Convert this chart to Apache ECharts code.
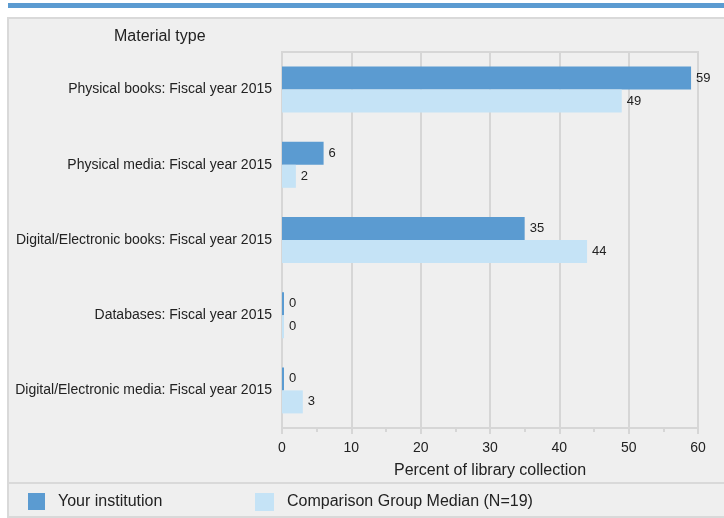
<!DOCTYPE html>
<html>
<head>
<meta charset="utf-8">
<script src="https://cdn.jsdelivr.net/npm/echarts@6/dist/echarts.min.js"></script>
<style>
html,body{margin:0;padding:0;background:#ffffff;}
#chart{width:724px;height:518px;}
</style>
</head>
<body>
<div id="chart"></div>
<script>
var categories = [
  'Physical books: Fiscal year 2015',
  'Physical media: Fiscal year 2015',
  'Digital/Electronic books: Fiscal year 2015',
  'Databases: Fiscal year 2015',
  'Digital/Electronic media: Fiscal year 2015'
];
var yourInstitution = [59, 6, 35, 0, 0];
var comparisonMedian = [49, 2, 44, 0, 3];
var seriesNames = ['Your institution', 'Comparison Group Median (N=19)'];
var xTicks = { min: 0, max: 60, interval: 10 };

var FONT = '"Liberation Sans", Arial, sans-serif';
var DARK = '#5b9bd1';
var LIGHT = '#c5e3f6';
var GRID = '#d6d6d6';

var chart = echarts.init(document.getElementById('chart'));
chart.setOption({
  animation: false,
  textStyle: { fontFamily: FONT },
  graphic: [
    { type: 'rect', z: -10, shape: { x: 8, y: 3, width: 716, height: 5 }, style: { fill: '#5b9bd1' } },
    { type: 'rect', z: -10, shape: { x: 8, y: 18, width: 720, height: 499 }, style: { fill: '#efefef', stroke: '#d9d9d9', lineWidth: 2 } },
    { type: 'line', z: -9, shape: { x1: 8, y1: 483, x2: 724, y2: 483 }, style: { stroke: '#d9d9d9', lineWidth: 2 } },
    { type: 'text', z: 5, left: 114, top: 29, style: { text: 'Material type', fontFamily: FONT, fontSize: 16, fill: '#222' } }
  ],
  legend: [
    { data: [seriesNames[0]], left: 28, top: 493, padding: 0, itemWidth: 17, itemHeight: 17, itemGap: 13, icon: 'rect',
      textStyle: { fontFamily: FONT, fontSize: 16, color: '#222', padding: [0, 0, 0, 8] } },
    { data: [seriesNames[1]], left: 255, top: 493, padding: 0, itemWidth: 19, itemHeight: 18, itemGap: 13, icon: 'rect',
      textStyle: { fontFamily: FONT, fontSize: 16, color: '#222', padding: [0, 0, 0, 8] } }
  ],
  grid: { left: 282, right: 26, top: 52, bottom: 90, show: true, borderColor: GRID, borderWidth: 2, backgroundColor: 'transparent' },
  xAxis: {
    type: 'value', min: xTicks.min, max: xTicks.max, interval: xTicks.interval,
    name: 'Percent of library collection', nameLocation: 'middle', nameGap: 35,
    nameTextStyle: { fontFamily: FONT, fontSize: 16, color: '#222' },
    axisLine: { show: true, lineStyle: { color: GRID, width: 2 } },
    axisTick: { show: true, length: 6, lineStyle: { color: GRID, width: 2 } },
    minorTick: { show: true, splitNumber: 2, length: 4, lineStyle: { color: GRID, width: 2 } },
    axisLabel: { fontFamily: FONT, fontSize: 14, color: '#222', margin: 13 },
    splitLine: { show: true, lineStyle: { color: GRID, width: 2 } }
  },
  yAxis: {
    type: 'category', data: categories, inverse: true,
    axisLine: { show: true, lineStyle: { color: GRID, width: 2 } },
    axisTick: { show: false },
    axisLabel: { fontFamily: FONT, fontSize: 14, color: '#222', margin: 10 },
    splitLine: { show: false }
  },
  series: [
    { name: seriesNames[0], type: 'bar', data: yourInstitution, barWidth: 23, barGap: '0%', barMinHeight: 2,
      itemStyle: { color: DARK },
      label: { show: true, position: 'right', distance: 5, fontFamily: FONT, fontSize: 13, color: '#222' } },
    { name: seriesNames[1], type: 'bar', data: comparisonMedian, barWidth: 23, barGap: '0%', barMinHeight: 2,
      itemStyle: { color: LIGHT },
      label: { show: true, position: 'right', distance: 5, fontFamily: FONT, fontSize: 13, color: '#222' } }
  ]
});
</script>
</body>
</html>
